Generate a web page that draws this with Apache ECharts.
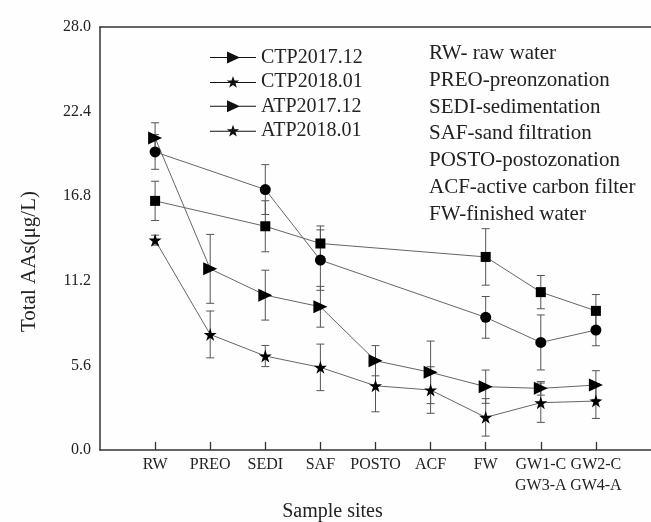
<!DOCTYPE html>
<html>
<head>
<meta charset="utf-8">
<script src="https://cdn.jsdelivr.net/npm/echarts@6/dist/echarts.min.js"></script>
<style>
  html, body { margin: 0; padding: 0; background: #fefefe; }
  #chart { width: 651px; height: 522px; }
</style>
</head>
<body>
<div id="chart"></div>
<script>
// sample sites along the treatment train
const sites = ['RW', 'PREO', 'SEDI', 'SAF', 'POSTO', 'ACF', 'FW', 'GW1-C\nGW3-A', 'GW2-C\nGW4-A']

// total AAs (ug/L) and their error bars, null = not sampled
const ctp201712 = [20.66, 11.99, 10.25, 9.48, 5.91, 5.14, 4.19, 4.08, 4.30]
const ctp201712Err = [1.0, 2.28, 1.65, 1.35, 1.0, 2.07, 1.1, 0.45, 0.95]
const ctp201801 = [13.89, 7.65, 6.22, 5.47, 4.25, 3.97, 2.16, 3.13, 3.24]
const ctp201801Err = [0.33, 1.55, 0.7, 1.54, 1.72, 1.54, 1.24, 1.3, 1.15]
const atp201712 = [16.49, null, 14.81, 13.67, null, null, 12.78, 10.45, 9.21]
const atp201712Err = [1.3, null, 1.69, 1.16, null, null, 1.87, 1.1, 1.08]
const atp201801 = [19.73, null, 17.24, 12.57, null, null, 8.78, 7.12, 7.94]
const atp201801Err = [1.15, null, 1.65, 2.0, null, null, 1.38, 1.82, 1.04]

const yTicks = [0, 5.6, 11.2, 16.8, 22.4, 28]

const notes = [
    'RW- raw water',
    'PREO-preonzonation',
    'SEDI-sedimentation',
    'SAF-sand filtration',
    'POSTO-postozonation',
    'ACF-active carbon filter',
    'FW-finished water'
]

const FONT = 'Liberation Serif'
const STAR = 'path://M50,0L61.2,34.5L97.6,34.5L68.2,55.9L79.4,90.5L50,69.1L20.6,90.5L31.8,55.9L2.4,34.5L38.8,34.5Z'
const legendTri = 'path://M0,6.5L46,6.5L46,7.5L0,7.5Z M17,1L30,7L17,13Z'
const legendStar = 'path://M0,6.5L46,6.5L46,7.5L0,7.5Z M23,0.5L24.53,4.9L29.18,4.99L25.47,7.8L26.82,12.26L23,9.6L19.18,12.26L20.53,7.8L16.82,4.99L21.47,4.9Z'

// one empty slot each side so the sites sit inside the frame like the original
const cats = [''].concat(sites, [''])
const pad = arr => [null].concat(arr, [null])

const errData = (vals, errs) => {
    const out = []
    vals.forEach((v, i) => {
        if (v != null) out.push([i + 1, v - errs[i], v + errs[i]])
    })
    return out
}

const errSeries = (vals, errs) => ({
    type: 'custom',
    silent: true,
    z: 1,
    encode: { x: 0, y: [1, 2] },
    data: errData(vals, errs),
    renderItem: (params, api) => {
        const lo = api.coord([api.value(0), api.value(1)])
        const hi = api.coord([api.value(0), api.value(2)])
        const w = 4
        const st = { stroke: '#555', lineWidth: 1 }
        return {
            type: 'group',
            children: [
                { type: 'line', shape: { x1: lo[0], y1: lo[1], x2: hi[0], y2: hi[1] }, style: st },
                { type: 'line', shape: { x1: lo[0] - w, y1: lo[1], x2: lo[0] + w, y2: lo[1] }, style: st },
                { type: 'line', shape: { x1: hi[0] - w, y1: hi[1], x2: hi[0] + w, y2: hi[1] }, style: st }
            ]
        }
    }
})

const lineSeries = (name, vals, symbol, size, rotate) => ({
    name: name,
    type: 'line',
    z: 3,
    data: pad(vals),
    connectNulls: true,
    symbol: symbol,
    symbolSize: size,
    symbolRotate: rotate || 0,
    itemStyle: { color: '#000' },
    lineStyle: { color: '#666', width: 1 }
})

const myChart = echarts.init(document.getElementById('chart'))
myChart.setOption({
    backgroundColor: '#fefefe',
    animation: false,
    textStyle: { fontFamily: FONT },
    grid: { left: 100, right: 0, top: 27, bottom: 72, outerBoundsMode: 'none' },
    legend: {
        orient: 'vertical',
        left: 205,
        top: 42.5,
        itemWidth: 46,
        itemHeight: 14,
        itemGap: 4.4,
        textStyle: { fontFamily: FONT, fontSize: 20, color: '#222', lineHeight: 20 },
        data: [
            { name: 'CTP2017.12', icon: legendTri, itemStyle: { color: '#111' } },
            { name: 'CTP2018.01', icon: legendStar, itemStyle: { color: '#111' } },
            { name: 'ATP2017.12', icon: legendTri, itemStyle: { color: '#111' } },
            { name: 'ATP2018.01', icon: legendStar, itemStyle: { color: '#111' } }
        ]
    },
    graphic: [{
        type: 'text',
        left: 429,
        top: 40.5,
        style: {
            text: notes.join('\n'),
            font: '21px "Liberation Serif"',
            lineHeight: 26.7,
            fill: '#222'
        }
    }],
    xAxis: [{
        type: 'category',
        data: cats,
        boundaryGap: false,
        name: 'Sample sites',
        nameLocation: 'middle',
        nameGap: 52,
        nameTextStyle: { fontFamily: FONT, fontSize: 20, color: '#222', padding: [0, 86, 0, 0] },
        axisLine: { lineStyle: { color: '#333', width: 1.5 } },
        axisTick: {
            inside: true,
            length: 8,
            lineStyle: { color: '#333', width: 1.3 },
            interval: (i) => i > 0 && i < cats.length - 1
        },
        axisLabel: {
            interval: 0,
            margin: 4,
            fontFamily: FONT,
            fontSize: 16,
            lineHeight: 21,
            color: '#222'
        },
        splitLine: { show: false }
    }, {
        type: 'category',
        data: cats,
        boundaryGap: false,
        position: 'top',
        axisLine: { lineStyle: { color: '#333', width: 1.5 } },
        axisTick: { show: false },
        axisLabel: { show: false },
        splitLine: { show: false }
    }],
    yAxis: {
        type: 'value',
        min: yTicks[0],
        max: yTicks[yTicks.length - 1],
        interval: 5.6,
        name: 'Total AAs(μg/L)',
        nameLocation: 'middle',
        nameGap: 60,
        nameRotate: 90,
        nameTextStyle: { fontFamily: FONT, fontSize: 21, color: '#222', padding: [0, 46, 0, 0] },
        axisLine: { show: true, lineStyle: { color: '#333', width: 1.5 } },
        axisTick: { inside: true, length: 8, lineStyle: { color: '#333', width: 1.3 } },
        axisLabel: {
            margin: 9,
            fontFamily: FONT,
            fontSize: 16,
            color: '#222',
            formatter: v => v.toFixed(1)
        },
        splitLine: { show: false }
    },
    series: [
        errSeries(ctp201712, ctp201712Err),
        errSeries(ctp201801, ctp201801Err),
        errSeries(atp201712, atp201712Err),
        errSeries(atp201801, atp201801Err),
        lineSeries('CTP2017.12', ctp201712, 'triangle', [13, 14], -90),
        lineSeries('CTP2018.01', ctp201801, STAR, [13, 13]),
        lineSeries('ATP2017.12', atp201712, 'rect', [10, 10]),
        lineSeries('ATP2018.01', atp201801, 'circle', 11)
    ]
})

window.addEventListener('resize', () => myChart.resize())
</script>
</body>
</html>
